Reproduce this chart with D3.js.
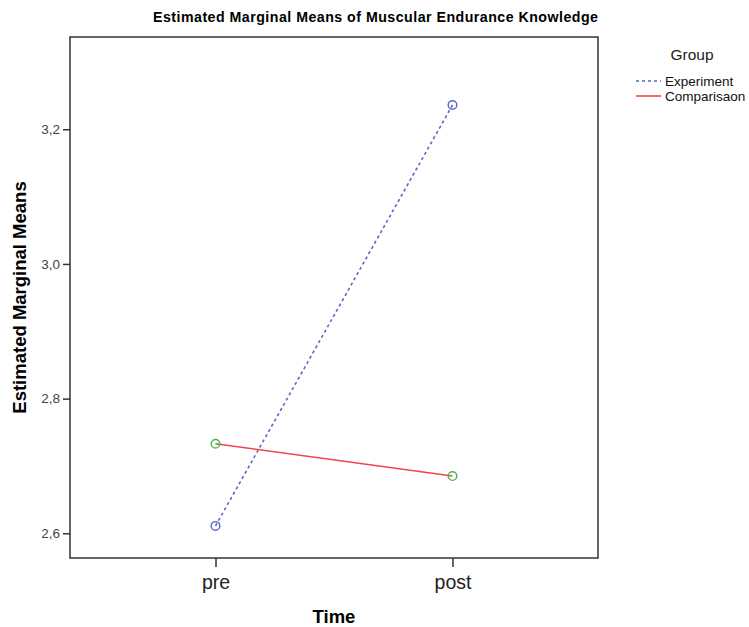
<!DOCTYPE html>
<html>
<head>
<meta charset="utf-8">
<script src="https://cdn.jsdelivr.net/npm/d3@7"></script>
<style>
  html, body { margin: 0; padding: 0; background: #fff; }
  svg { display: block; }
</style>
</head>
<body>
<svg id="chart" width="749" height="627"></svg>
<script>
// Estimated marginal means by time point for each group
const timePoints = ["pre", "post"];
const groups = ["Experiment", "Comparisaon"];
const experimentMeans = [2.611, 3.236];
const comparisonMeans = [2.733, 2.685];
const yTicks = [2.6, 2.8, 3.0, 3.2];
const yTickLabels = ["2,6", "2,8", "3,0", "3,2"];

const series = [
  { name: groups[0], values: experimentMeans, line: "#5569c9", marker: "#5569c9", dash: "3,3" },
  { name: groups[1], values: comparisonMeans, line: "#f0464b", marker: "#3fbf4f", dash: null }
];

const svg = d3.select("#chart");
const frame = { left: 70, right: 598, top: 37, bottom: 558 };

const x = d3.scalePoint()
  .domain(timePoints)
  .range([frame.left, frame.right])
  .padding(0.614);

const y = d3.scaleLinear()
  .domain([2.5633, 3.3370])
  .range([frame.bottom, frame.top]);

const sans = "Arial, 'Liberation Sans', Helvetica, sans-serif";

// Title
svg.append("text")
  .attr("x", 153)
  .attr("y", 22)
  .attr("textLength", 445)
  .attr("lengthAdjust", "spacing")
  .attr("font-family", sans)
  .attr("font-weight", "bold")
  .attr("font-size", 14.2)
  .attr("fill", "#000")
  .text("Estimated Marginal Means of Muscular Endurance Knowledge");

// Y axis
const yAxis = d3.axisLeft(y)
  .tickValues(yTicks)
  .tickFormat((d, i) => yTickLabels[i])
  .tickSize(7)
  .tickPadding(3);
const gy = svg.append("g")
  .attr("transform", `translate(${frame.left},0)`)
  .call(yAxis);
gy.select(".domain").remove();
gy.selectAll(".tick line").attr("stroke", "#333").attr("stroke-width", 1.5);
gy.selectAll(".tick text")
  .attr("font-family", sans)
  .attr("font-size", 13.5)
  .attr("fill", "#444");

// X axis
const xAxis = d3.axisBottom(x)
  .tickSize(9)
  .tickPadding(8);
const gx = svg.append("g")
  .attr("transform", `translate(0,${frame.bottom})`)
  .call(xAxis);
gx.select(".domain").remove();
gx.selectAll(".tick line").attr("stroke", "#333").attr("stroke-width", 1.5);
gx.selectAll(".tick text")
  .attr("font-family", sans)
  .attr("font-size", 19.5)
  .attr("fill", "#222");

// Plot frame
svg.append("rect")
  .attr("x", frame.left)
  .attr("y", frame.top)
  .attr("width", frame.right - frame.left)
  .attr("height", frame.bottom - frame.top)
  .attr("fill", "none")
  .attr("stroke", "#333")
  .attr("stroke-width", 1.5);

// Axis titles
svg.append("text")
  .attr("transform", `translate(26,${(frame.top + frame.bottom) / 2}) rotate(-90)`)
  .attr("text-anchor", "middle")
  .attr("font-family", sans)
  .attr("font-weight", "bold")
  .attr("font-size", 18.5)
  .attr("fill", "#000")
  .text("Estimated Marginal Means");

svg.append("text")
  .attr("x", (frame.left + frame.right) / 2)
  .attr("y", 623)
  .attr("text-anchor", "middle")
  .attr("font-family", sans)
  .attr("font-weight", "bold")
  .attr("font-size", 18.5)
  .attr("fill", "#000")
  .text("Time");

// Lines and markers
const line = d3.line()
  .x((d, i) => x(timePoints[i]))
  .y(d => y(d));

series.forEach(s => {
  svg.append("path")
    .datum(s.values)
    .attr("d", line)
    .attr("fill", "none")
    .attr("stroke", s.line)
    .attr("stroke-width", 1.6)
    .attr("stroke-dasharray", s.dash);
  svg.selectAll(null)
    .data(s.values)
    .enter()
    .append("circle")
    .attr("cx", (d, i) => x(timePoints[i]))
    .attr("cy", d => y(d))
    .attr("r", 4.3)
    .attr("fill", "none")
    .attr("stroke", s.marker)
    .attr("stroke-width", 1.4);
});

// Legend
const legend = svg.append("g");
legend.append("text")
  .attr("x", 692)
  .attr("y", 60)
  .attr("text-anchor", "middle")
  .attr("font-family", sans)
  .attr("font-size", 15.5)
  .attr("fill", "#222")
  .text("Group");
series.forEach((s, i) => {
  const ly = 81 + i * 15;
  legend.append("line")
    .attr("x1", 636).attr("x2", 661)
    .attr("y1", ly).attr("y2", ly)
    .attr("stroke", s.line)
    .attr("stroke-width", 1.6)
    .attr("stroke-dasharray", s.dash);
  legend.append("text")
    .attr("x", 665)
    .attr("y", ly + 4.5)
    .attr("font-family", sans)
    .attr("font-size", 13.5)
    .attr("fill", "#111")
    .text(s.name);
});
</script>
</body>
</html>
